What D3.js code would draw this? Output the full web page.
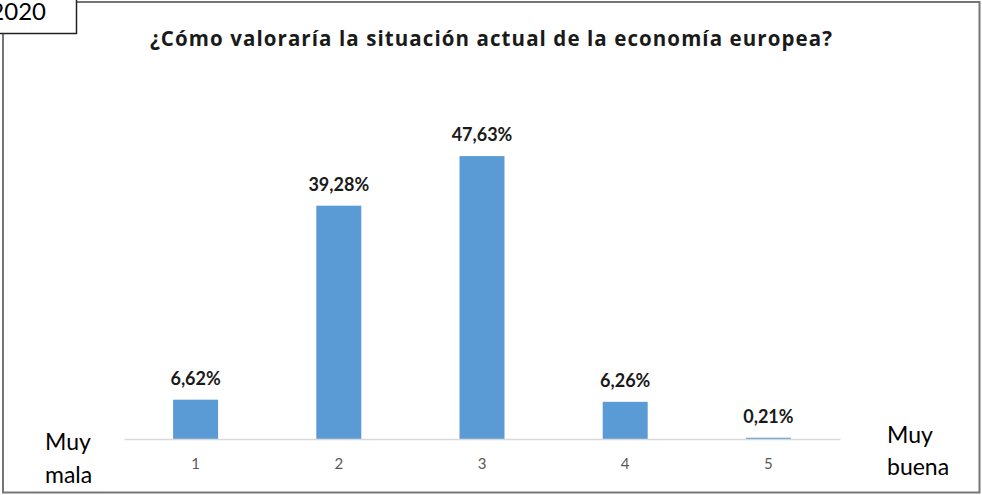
<!DOCTYPE html>
<html>
<head>
<meta charset="utf-8">
<script src="https://cdn.jsdelivr.net/npm/d3@7"></script>
<style>
  html, body { margin: 0; padding: 0; background: #fff; }
  svg { display: block; }
  text { font-family: Lato, "Open Sans", "DejaVu Sans", sans-serif; }
</style>
</head>
<body>
<svg id="chart" width="982" height="495"></svg>
<script>
const categories = ["1", "2", "3", "4", "5"];
const values = [6.62, 39.28, 47.63, 6.26, 0.21];
const valueLabels = ["6,62%", "39,28%", "47,63%", "6,26%", "0,21%"];
const title = "¿Cómo valoraría la situación actual de la economía europea?";
const yearLabel = "2020";
const leftEndLabel = ["Muy", "mala"];
const rightEndLabel = ["Muy", "buena"];

const svg = d3.select("#chart");

// outer frame
svg.append("rect")
  .attr("x", 3).attr("y", 2).attr("width", 976.5).attr("height", 490.5)
  .attr("fill", "#fff").attr("stroke", "#767676").attr("stroke-width", 2);

const x = d3.scaleBand().domain(categories).range([124, 840]).paddingInner(0.686).paddingOuter(0.343);
const y = d3.scaleLinear().domain([0, 50]).range([439, 142]);

// bars
svg.append("g").selectAll("rect").data(values).join("rect")
  .attr("x", (d, i) => x(categories[i]))
  .attr("y", d => y(d))
  .attr("width", x.bandwidth())
  .attr("height", d => y(0) - y(d))
  .attr("fill", "#5b9bd5");

// axis
const xAxis = d3.axisBottom(x).tickSize(0).tickPadding(19);
const gx = svg.append("g").attr("transform", `translate(0,${y(0)})`).call(xAxis);
gx.select(".domain").attr("stroke", "#d9d9d9").attr("stroke-width", 1.5);
gx.selectAll(".tick text")
  .attr("fill", "#595959")
  .style("font-size", "15px")
  .style("font-family", "Lato, 'Open Sans', sans-serif");

// value labels
svg.append("g").selectAll("text").data(values).join("text")
  .attr("x", (d, i) => x(categories[i]) + x.bandwidth() / 2)
  .attr("y", d => y(d) - 15)
  .attr("text-anchor", "middle")
  .attr("font-weight", "bold")
  .attr("font-size", "18px")
  .attr("fill", "#1a1a1a")
  .text((d, i) => valueLabels[i]);

// title
svg.append("text")
  .attr("x", 491).attr("y", 46)
  .attr("text-anchor", "middle")
  .attr("font-weight", "bold")
  .attr("font-size", "20.5px")
  .attr("textLength", 682)
  .attr("lengthAdjust", "spacing")
  .attr("fill", "#1a1a1a")
  .style("font-family", "'Open Sans', Lato, sans-serif")
  .text(title);

// end labels
svg.append("g").selectAll("text").data(leftEndLabel).join("text")
  .attr("x", 45).attr("y", (d, i) => 450 + i * 33)
  .attr("font-size", "23px").attr("fill", "#000")
  .text(d => d);
svg.append("g").selectAll("text").data(rightEndLabel).join("text")
  .attr("x", 887).attr("y", (d, i) => 443 + i * 32)
  .attr("font-size", "23px").attr("fill", "#000")
  .text(d => d);

// year box
svg.append("rect")
  .attr("x", -2).attr("y", -2).attr("width", 78.5).attr("height", 35.5)
  .attr("fill", "#fff").attr("stroke", "#222").attr("stroke-width", 1.5);
svg.append("text")
  .attr("x", 46).attr("y", 20)
  .attr("text-anchor", "end")
  .attr("font-size", "24px").attr("fill", "#000")
  .text(yearLabel);
</script>
</body>
</html>
